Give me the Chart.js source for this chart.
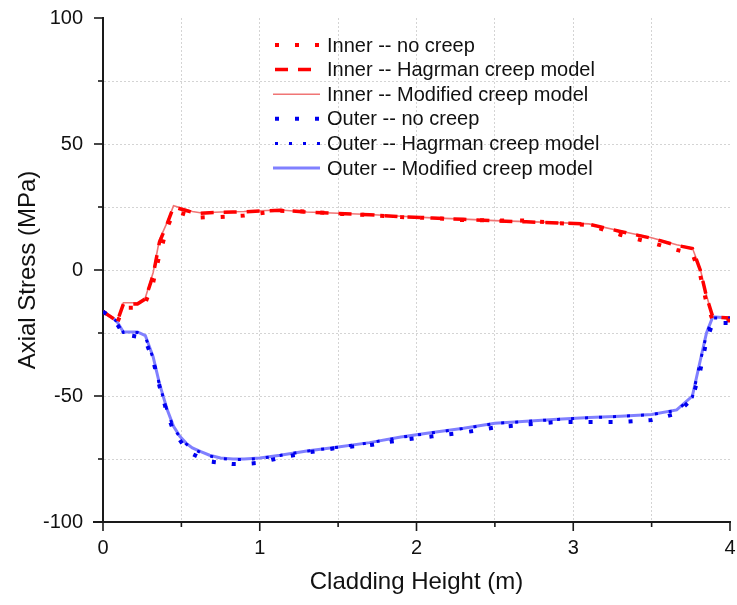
<!DOCTYPE html>
<html>
<head>
<meta charset="utf-8">
<script src="https://cdn.jsdelivr.net/npm/chart.js@4.4.1/dist/chart.umd.min.js"></script>
<style>
  html, body { margin: 0; padding: 0; background: #fff; }
  #wrap { width: 737px; height: 605px; position: relative; }
</style>
</head>
<body>
<div id="wrap"><canvas id="c" width="737" height="605"></canvas></div>
<script>
// ---- data ----
const heights = [0, 0.06, 0.09, 0.13, 0.22, 0.27, 0.32, 0.36, 0.41, 0.45, 0.49, 0.53, 0.57, 0.62, 0.68, 0.75, 0.83, 0.9, 1.0, 1.13, 1.3, 1.5, 1.7, 1.9, 2.1, 2.3, 2.5, 2.7, 2.9, 3.1, 3.3, 3.5, 3.66, 3.76, 3.81, 3.85, 3.89, 4.0];

const innerNoCreep = [-16.5, -19, -21, -15, -15, -13, -5, 6, 17, 22.5,
  22.8, 22, 21.2, 20.8, 21, 21, 21.3, 21.6, 22.5, 23.5,
  23.2, 22.3, 21.8, 21, 20.6, 19.8, 19.7, 19.6, 18.6, 17.8,
  14, 10.8, 8, 6.5, -2, -13, -20, -20];
const innerHagrman = [-16.5, -19, -20.5, -13.5, -13.5, -11.5, -2, 11, 18.5, 25,
  24.3, 23.6, 22.9, 22.5, 22.7, 22.9, 23, 23.1, 23.4, 23.7,
  23, 22.4, 21.9, 21.2, 20.6, 20.1, 19.5, 19.1, 18.7, 18.2,
  15.3, 12.6, 9.8, 8.5, 0, -10.5, -18.6, -19];
const innerModified = [-16.5, -19, -20.5, -13, -13, -11, -1, 12, 19, 25.5,
  24.8, 24, 23.2, 22.7, 22.8, 23, 23.1, 23.2, 23.5, 23.8,
  23, 22.5, 22, 21.3, 20.7, 20.2, 19.6, 19.2, 18.8, 18.3,
  15.5, 12.8, 10, 8.7, 0.5, -10, -18.6, -19];
const outerNoCreep = [-16.5, -19, -21.5, -25.5, -26.5, -28, -36, -46, -57, -64,
  -67.5, -71, -73, -74.5, -76, -76.5, -77, -77, -76.5, -74.5,
  -72.5, -70.5, -69.5, -67.5, -66, -64.5, -62.5, -61.3, -60.3, -60.3,
  -60.3, -59.5, -57, -51, -40, -28, -21, -21];
const outerHagrman = [-16.5, -19, -20.5, -24.8, -24.8, -26.5, -35, -45.5, -56, -62.5,
  -66.4, -69, -70.9, -72.3, -73.8, -74.8, -75.2, -75.2, -74.8, -73.6,
  -71.9, -70.3, -68.6, -66.4, -64.6, -62.9, -60.9, -60.1, -59.3, -58.6,
  -58.1, -57.4, -55.7, -50.5, -36.5, -25.5, -19, -19];
const outerModified = [-16.5, -19, -20.5, -24.6, -24.6, -26, -34.5, -45, -55.5, -62,
  -66, -68.7, -70.6, -72, -73.5, -74.6, -75, -75, -74.6, -73.5,
  -71.8, -70.2, -68.5, -66.3, -64.5, -62.8, -60.8, -60, -59.2, -58.5,
  -58, -57.3, -55.5, -50, -36, -25, -18.6, -19];

const seriesNames = [
  'Inner -- no creep',
  'Inner -- Hagrman creep model',
  'Inner -- Modified creep model',
  'Outer -- no creep',
  'Outer -- Hagrman creep model',
  'Outer -- Modified creep model'
];
const seriesValues = [innerNoCreep, innerHagrman, innerModified, outerNoCreep, outerHagrman, outerModified];

const xTickLabels = ['0', '1', '2', '3', '4'];
const yTickLabels = ['-100', '-50', '0', '50', '100'];

// ---- styles ----
const styles = [
  { color: '#ff0000', width: 4, dash: [4, 16] },
  { color: '#ff0000', width: 3.5, dash: [13, 10] },
  { color: '#f07575', width: 1.6, dash: [] },
  { color: '#0000ee', width: 4, dash: [4, 16] },
  { color: '#0000ee', width: 3, dash: [3, 11] },
  { color: '#8080ff', width: 3, dash: [] }
];
const FONT = "'Liberation Sans', Arial, sans-serif";

const datasets = seriesNames.map((name, i) => ({
  label: name,
  data: heights.map((h, k) => ({ x: h, y: seriesValues[i][k] })),
  borderColor: styles[i].color,
  backgroundColor: styles[i].color,
  borderWidth: styles[i].width,
  borderDash: styles[i].dash,
  pointRadius: 0,
  fill: false,
  tension: 0,
  order: [1, 3, 5, 0, 2, 4][i]
}));

const tickPlugin = {
  id: 'ticksAndLegend',
  afterDraw(chart) {
    const ctx = chart.ctx;
    const xs = chart.scales.x, ys = chart.scales.y;
    const area = chart.chartArea;
    ctx.save();
    ctx.strokeStyle = '#1a1a1a';
    ctx.lineWidth = 1.6;
    ys.ticks.forEach(t => {
      const py = ys.getPixelForValue(t.value);
      const len = (t.value % 50 === 0) ? 9 : 5;
      ctx.beginPath(); ctx.moveTo(area.left - len, py); ctx.lineTo(area.left, py); ctx.stroke();
    });
    xs.ticks.forEach(t => {
      const px = xs.getPixelForValue(t.value);
      const len = Number.isInteger(t.value) ? 9 : 5;
      ctx.beginPath(); ctx.moveTo(px, area.bottom); ctx.lineTo(px, area.bottom + len); ctx.stroke();
    });
    // x axis line slightly extended to the left, as in the reference
    ctx.lineWidth = 2;
    ctx.beginPath(); ctx.moveTo(area.left - 10, area.bottom); ctx.lineTo(area.left, area.bottom); ctx.stroke();
    // legend
    const x0 = 273, x1 = 320, tx = 327, y0 = 45, dy = 24.6;
    ctx.font = '20px ' + FONT;
    ctx.textBaseline = 'middle';
    ctx.textAlign = 'left';
    chart.data.datasets.forEach((ds, i) => {
      const y = y0 + i * dy;
      ctx.save();
      ctx.strokeStyle = ds.borderColor;
      ctx.lineWidth = ds.borderWidth;
      ctx.setLineDash(ds.borderDash);
      ctx.lineDashOffset = -2;
      ctx.beginPath(); ctx.moveTo(x0, y); ctx.lineTo(x1, y); ctx.stroke();
      ctx.restore();
      ctx.fillStyle = '#111';
      ctx.fillText(ds.label, tx, y + 1);
    });
    ctx.restore();
  }
};

new Chart(document.getElementById('c'), {
  type: 'line',
  data: { datasets },
  options: {
    responsive: false,
    animation: false,
    devicePixelRatio: 1,
    layout: { padding: { top: 18, right: 7, left: 0, bottom: 0 } },
    plugins: { legend: { display: false }, tooltip: { enabled: false } },
    scales: {
      x: {
        type: 'linear', min: 0, max: 4,
        afterFit(s) { s.height = 83; s.paddingLeft = 0; s.paddingRight = 0; },
        ticks: {
          stepSize: 0.5, autoSkip: false, maxRotation: 0, padding: 14,
          color: '#111', font: { family: FONT, size: 20 },
          callback: v => Number.isInteger(v) ? xTickLabels[v] : ''
        },
        grid: {
          drawTicks: false,
          color: c => (c.tick && c.tick.value === 4) ? 'rgba(0,0,0,0)' : '#d4d4d4',
          lineWidth: 1
        },
        border: { display: true, color: '#1a1a1a', width: 2, dash: [2, 2] },
        title: { display: true, text: 'Cladding Height (m)', color: '#111', font: { family: FONT, size: 24 }, padding: { top: 0, bottom: 8 } }
      },
      y: {
        type: 'linear', min: -100, max: 100,
        afterFit(s) { s.width = 103; s.paddingTop = 0; s.paddingBottom = 0; },
        ticks: {
          stepSize: 25, autoSkip: false, padding: 20,
          color: '#111', font: { family: FONT, size: 20 },
          callback: v => (v % 50 === 0) ? yTickLabels[(v + 100) / 50] : ''
        },
        grid: {
          drawTicks: false,
          color: c => (c.tick && c.tick.value === 100) ? 'rgba(0,0,0,0)' : '#d4d4d4',
          lineWidth: 1
        },
        border: { display: true, color: '#1a1a1a', width: 2, dash: [2, 2] },
        title: { display: true, text: 'Axial Stress (MPa)', color: '#111', font: { family: FONT, size: 24 }, padding: { top: 14, bottom: 0 } }
      }
    }
  },
  plugins: [tickPlugin]
});
</script>
</body>
</html>
